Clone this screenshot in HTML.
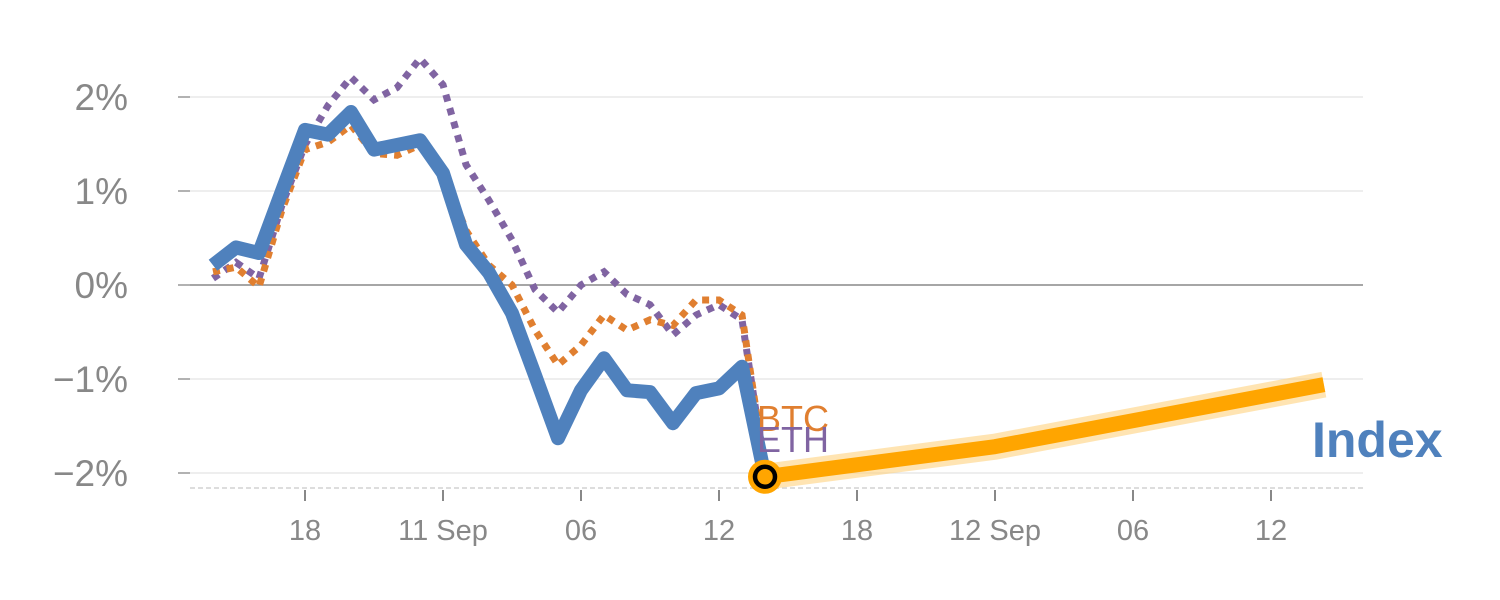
<!DOCTYPE html>
<html><head><meta charset="utf-8"><style>
body{margin:0;background:#fff}
svg{display:block;font-family:"Liberation Sans",Arial,sans-serif}
</style></head><body>
<svg id="chart" width="1500" height="600" viewBox="0 0 1500 600" xmlns="http://www.w3.org/2000/svg"></svg>
<script>
const yTicks = [2, 1, 0, -1, -2];
const yTickLabels = ["2%", "1%", "0%", "\u22121%", "\u22122%"];
const xTickIdx = [4, 10, 16, 22, 28, 34, 40, 46];
const xTickLabels = ["18", "11 Sep", "06", "12", "18", "12 Sep", "06", "12"];
const indexVals = [0.21,0.40,0.34,1.0,1.65,1.60,1.84,1.44,1.49,1.54,1.19,0.43,0.13,-0.30,-0.96,-1.63,-1.12,-0.78,-1.12,-1.14,-1.47,-1.15,-1.10,-0.87,-2.04];
const btcVals = [0.14,0.19,-0.02,0.80,1.44,1.52,1.70,1.40,1.38,1.49,1.22,0.58,0.21,0.0,-0.48,-0.85,-0.64,-0.32,-0.48,-0.37,-0.43,-0.16,-0.16,-0.32,-1.97];
const ethVals = [0.07,0.24,0.07,0.85,1.49,1.91,2.21,1.97,2.10,2.41,2.13,1.28,0.90,0.48,-0.05,-0.29,0.0,0.14,-0.10,-0.21,-0.53,-0.32,-0.21,-0.37,-1.97];
const fcIdx = [24, 34, 48.3];
const fcVals = [-2.04, -1.72, -1.06];

const NS = "http://www.w3.org/2000/svg";
const svg = document.getElementById("chart");
const X = i => 213 + 23 * i;
const Y = v => 285 - 94 * v;
function mk(tag, attrs, parent) {
  const e = document.createElementNS(NS, tag);
  for (const k in attrs) e.setAttribute(k, attrs[k]);
  (parent || svg).appendChild(e);
  return e;
}
yTicks.forEach((v, k) => {
  const g = mk("line", {x1:190, x2:1363, y1:Y(v), y2:Y(v), stroke: v===0?"#888":"#e3e3e3", "stroke-width": v===0?1.5:1.2});
  
  
  const tk = mk("line", {x1:178, x2:190, y1:Y(v), y2:Y(v), stroke:"#999", "stroke-width":1.5});
  
  
  const t = mk("text", {x:128, y:Y(v)+13, "text-anchor":"end", "font-size":37, fill:"#888"});
  t.textContent = yTickLabels[k];
  
  
});
const base = mk("line", {x1:190, x2:1365, y1:488, y2:488, stroke:"#ddd", "stroke-width":2, "stroke-dasharray":"5,3"});


xTickIdx.forEach((i, k) => {
  const tk = mk("line", {x1:X(i), x2:X(i), y1:490, y2:501, stroke:"#888", "stroke-width":2});
  
  
  const t = mk("text", {x:X(i), y:540, "text-anchor":"middle", "font-size":29, fill:"#888"});
  t.textContent = xTickLabels[k];
  
  
});
function pts(vals, idx) { return vals.map((v, k) => X(idx ? idx[k] : k) + "," + Y(v)).join(" "); }
const fc1 = mk("polyline", {points: pts(fcVals, fcIdx), fill:"none", stroke:"#ffd27f", "stroke-width":26, "stroke-opacity":0.6, "stroke-linejoin":"round"});


const fc2 = mk("polyline", {points: pts(fcVals, fcIdx), fill:"none", stroke:"#ffa500", "stroke-width":15, "stroke-linejoin":"round"});


const eth = mk("polyline", {points: pts(ethVals), fill:"none", stroke:"#8064a2", "stroke-width":7, "stroke-dasharray":"7,7"});


const btc = mk("polyline", {points: pts(btcVals), fill:"none", stroke:"#e07f30", "stroke-width":7, "stroke-dasharray":"7,7"});


const idx = mk("polyline", {points: pts(indexVals), fill:"none", stroke:"#4f81bd", "stroke-width":14, "stroke-linejoin":"round"});


const last = indexVals.length - 1;
const c1 = mk("circle", {cx:X(last), cy:Y(indexVals[last]), r:17, fill:"#ffa500"});


const c2 = mk("circle", {cx:X(last), cy:Y(indexVals[last]), r:10, fill:"#ffa500", stroke:"#000", "stroke-width":4.5});


const lb = mk("text", {x:757, y:431, "font-size":36, fill:"#e07f30"});
lb.textContent = "BTC";


const le = mk("text", {x:757, y:452, "font-size":36, fill:"#8064a2"});
le.textContent = "ETH";


const li = mk("text", {x:1312, y:457, "font-size":50, "font-weight":"bold", fill:"#4f81bd"});
li.textContent = "Index";


</script>
</body></html>
